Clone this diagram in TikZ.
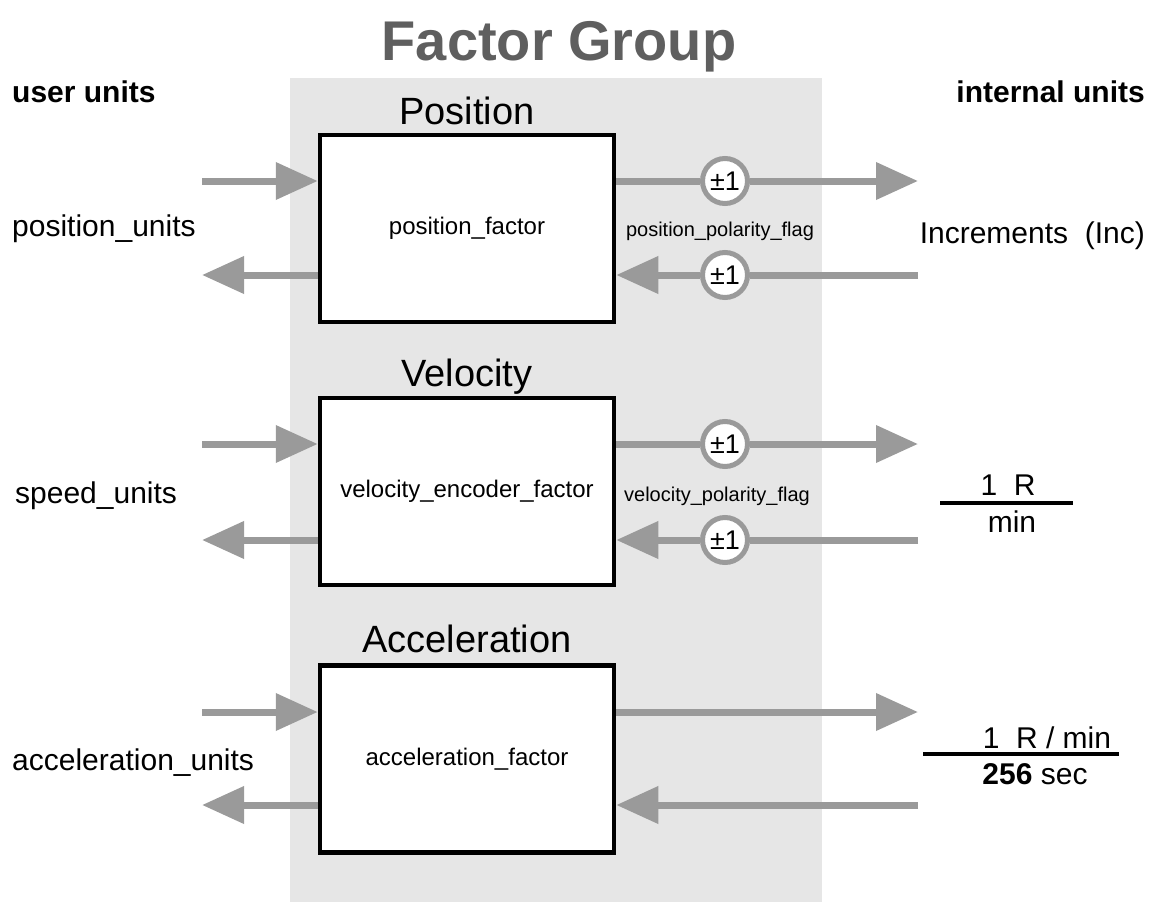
\documentclass[tikz,border=0pt]{standalone}
\usepackage{fontspec}
\setmainfont{Liberation Sans}
\usetikzlibrary{arrows.meta}
\definecolor{groupgray}{HTML}{E6E6E6}
\definecolor{flowgray}{HTML}{9A9A9A}
\definecolor{titlegray}{HTML}{5F5F5F}
\newcommand{\fsz}[1]{\fontsize{#1}{#1}\selectfont}

\begin{document}
\begin{tikzpicture}[x=1pt,y=-1pt,every node/.style={inner sep=0pt},
  factorbox/.style={draw=black,line width=4.5pt,fill=white,minimum width=294pt,minimum height=187pt,font=\fsz{24}},
  blocktitle/.style={anchor=base,font=\fsz{38}},
  unitlabel/.style={font=\fsz{30}},
  flagtext/.style={anchor=base,font=\fsz{20}},
  sign/.style={circle,draw=flowgray,line width=5pt,fill=white,minimum size=45pt,font=\fsz{27}},
  flow/.style={draw=flowgray,line width=7pt,-{Triangle[length=42pt,width=36pt]}},
  plainflow/.style={draw=flowgray,line width=7pt},
  fracline/.style={draw=black,line width=4pt}]
\useasboundingbox (0,0) rectangle (1153,902);
% group background
\fill[groupgray] (290,78) rectangle (822,902);
\node[anchor=base,font=\fsz{56}\bfseries,text=titlegray] (title) at (559,60) {Factor Group};
\node[unitlabel,anchor=base west,font=\fsz{30}\bfseries] (user) at (12,102) {user units};
\node[unitlabel,anchor=base east,font=\fsz{30}\bfseries] (internal) at (1145,102) {internal units};

% blocks
\node[factorbox] (pos) at (467,228.5) {position\_factor};
\node[factorbox] (vel) at (467,491.5) {velocity\_encoder\_factor};
\node[factorbox] (acc) at (467,759) {acceleration\_factor};
\node[blocktitle] (postitle) at (467,124) {Position};
\node[blocktitle] (veltitle) at (467,386) {Velocity};
\node[blocktitle] (acctitle) at (467,652) {Acceleration};

% user side
\node[unitlabel,anchor=base west] (posunits) at (12,236) {position\_units};
\node[unitlabel,anchor=base west] (speedunits) at (15,503) {speed\_units};
\node[unitlabel,anchor=base west] (accunits) at (12,770) {acceleration\_units};
\coordinate (posin) at (202,181);
\coordinate (posback) at (202,275);
\coordinate (velin) at (202,444);
\coordinate (velback) at (202,540);
\coordinate (accin) at (202,712);
\coordinate (accback) at (202,805);
\draw[flow] (posin) -- (posin -| pos.west);
\draw[flow] (posback -| pos.west) -- (posback);
\draw[flow] (velin) -- (velin -| vel.west);
\draw[flow] (velback -| vel.west) -- (velback);
\draw[flow] (accin) -- (accin -| acc.west);
\draw[flow] (accback -| acc.west) -- (accback);

% internal side
\coordinate (posout) at (918,181);
\coordinate (posret) at (918,275);
\coordinate (velout) at (918,444);
\coordinate (velret) at (918,540);
\coordinate (accout) at (918,712);
\coordinate (accret) at (918,805);
\node[sign] (s1) at (725,181) {±1};
\node[sign] (s2) at (725,275) {±1};
\node[sign] (s3) at (725,444) {±1};
\node[sign] (s4) at (725,540) {±1};
\draw[plainflow] (s1 -| pos.east) -- (s1.west);
\draw[flow] (s1.east) -- (posout);
\draw[plainflow] (posret) -- (s2.east);
\draw[flow] (s2.west) -- (s2 -| pos.east);
\draw[plainflow] (s3 -| vel.east) -- (s3.west);
\draw[flow] (s3.east) -- (velout);
\draw[plainflow] (velret) -- (s4.east);
\draw[flow] (s4.west) -- (s4 -| vel.east);
\draw[flow] (accout -| acc.east) -- (accout);
\draw[flow] (accret) -- (accret -| acc.east);
\node[flagtext] (posflag) at (720,236) {position\_polarity\_flag};
\node[flagtext] (velflag) at (717,501) {velocity\_polarity\_flag};

% internal units
\node[unitlabel,anchor=base east] (inc) at (1145,243) {Increments\ \ (Inc)};
\node[unitlabel,anchor=base] (velnum) at (1008,495) {1\hspace{0.55em}R};
\node[unitlabel,anchor=base] (velden) at (1012,532) {min};
\draw[fracline] (940,503) -- (1073,503);
\node[unitlabel,anchor=base] (accnum) at (1047,748) {1\hspace{0.55em}R / min};
\node[unitlabel,anchor=base] (accden) at (1035,784) {\textbf{256} sec};
\draw[fracline] (923,754) -- (1119,754);
\end{tikzpicture}
\end{document}
